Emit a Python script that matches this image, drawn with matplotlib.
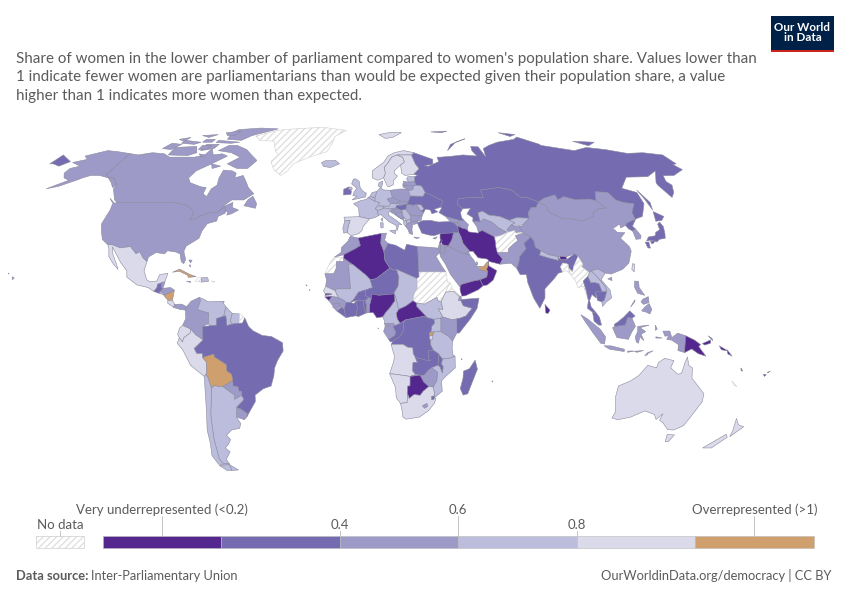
import numpy as np
import matplotlib
matplotlib.use('Agg')
import matplotlib.pyplot as plt
from matplotlib.patches import Polygon, Rectangle

plt.rcParams['font.family'] = ['Lato', 'DejaVu Sans']
plt.rcParams['hatch.linewidth'] = 1.0

title_lines = [
    "Share of women in the lower chamber of parliament compared to women's population share. Values lower than",
    "1 indicate fewer women are parliamentarians than would be expected given their population share, a value",
    "higher than 1 indicates more women than expected.",
]

# legend
bin_edges = [0, 0.2, 0.4, 0.6, 0.8, 1.0, 1.2]
bin_colors = ['#54278f', '#756bb1', '#9e9ac8', '#bcbddc', '#dadaeb', '#cf9f6e']

# ratio, only the bin can be read so mostly mid-bin values
ratio = {
    'Canada': .5, 'USA': .5, 'Alaska': .5, 'Greenland': None, 'Russia': .3, 'Mexico': .9, 'Guatemala': .3, 'Belize': .5,
    'El Salvador': .7, 'Honduras': .5, 'Nicaragua': 1.1, 'Costa Rica': .9, 'Panama': .5, 'Cuba': 1.1, 'Haiti': None,
    'Dominican Rep': .7, 'Jamaica': .5, 'Bahamas': .5, 'Puerto Rico': None, 'Trinidad': .7,
    'Colombia': .5, 'Venezuela': .7, 'Guyana': .7, 'Suriname': .7, 'French Guiana': None, 'Brazil': .3, 'Ecuador': .9,
    'Peru': .9, 'Bolivia': 1.1, 'Paraguay': .5, 'Uruguay': .5, 'Argentina': .7, 'Chile': .7,
    'Morocco': .5, 'Western Sahara': None, 'Mauritania': .5, 'Algeria': .1, 'Tunisia': .5, 'Libya': .3, 'Egypt': .5,
    'Mali': .7, 'Niger': .3, 'Chad': .7, 'Sudan': None, 'South Sudan': .7, 'CAR': .1, 'Eritrea': None, 'Ethiopia': .9,
    'Djibouti': .5, 'Somalia': .3, 'Kenya': .5, 'Uganda': .7, 'Tanzania': .7, 'DR Congo': .3, 'Congo': .3, 'Gabon': .5,
    'Equatorial Guinea': .5, 'Cameroon': .7, 'Nigeria': .1, 'Benin': .5, 'Togo': .3, 'Ghana': .3, 'Ivory Coast': .3,
    'Burkina Faso': .3, 'Liberia': .3, 'Sierra Leone': .5, 'Guinea': .5, 'Guinea-Bissau': .1, 'Senegal': .9, 'Gambia': .1,
    'Angola': .9, 'Zambia': .3, 'Malawi': .3, 'Mozambique': .7, 'Zimbabwe': .5, 'Namibia': .9, 'Botswana': .1,
    'South Africa': .9, 'Lesotho': .5, 'Eswatini': .3, 'Madagascar': .3, 'Rwanda': 1.1, 'Burundi': .9, 'Cape Verde': .9,
    'Mauritius': .3, 'Comoros': .3, 'Sao Tome': .5,
    'Iceland': .7, 'Ireland': .3, 'UK': .7, 'France': .7, 'Spain': .9, 'Portugal': .7, 'Belgium': .7, 'Netherlands': .7,
    'Germany': .7, 'Denmark': .7, 'Switzerland': .7, 'Austria': .7, 'Italy': .7, 'Poland': .5, 'Czechia': .5, 'Slovakia': .5,
    'Hungary': .3, 'Romania': .5, 'Bulgaria': .5, 'Greece': .5, 'Albania': .7, 'North Macedonia': .7, 'Serbia': .7,
    'Croatia': .5, 'Bosnia': .5, 'Montenegro': .5, 'Slovenia': .5, 'Ukraine': .3, 'Moldova': .7, 'Belarus': .7,
    'Lithuania': .5, 'Latvia': .5, 'Estonia': .7, 'Norway': .9, 'Sweden': .9, 'Finland': .9, 'Svalbard': .9,
    'Turkey': .3, 'Cyprus': .5, 'Georgia': .5, 'Armenia': .5, 'Azerbaijan': .5,
    'Kazakhstan': .3, 'Uzbekistan': .7, 'Turkmenistan': .5, 'Kyrgyzstan': .7, 'Tajikistan': .5, 'Afghanistan': None,
    'Iran': .1, 'Iraq': .5, 'Syria': .1, 'Lebanon': .1, 'Israel': .5, 'Jordan': .5, 'Saudi Arabia': .5, 'Yemen': .1,
    'Oman': .1, 'UAE': 1.1, 'Qatar': .5, 'Kuwait': .5, 'Pakistan': .5, 'India': .3, 'Sri Lanka': .1, 'Nepal': .7,
    'Bhutan': .1, 'Bangladesh': None, 'Myanmar': None, 'Thailand': .3, 'Laos': .7, 'Cambodia': .3, 'Vietnam': .7,
    'Malaysia': .3, 'Indonesia': .5, 'Timor-Leste': .9, 'PNG': .1, 'Solomon Islands': .1, 'Vanuatu': .1, 'Fiji': .1,
    'New Caledonia': None, 'Philippines': .5, 'Taiwan': .9, 'Japan': .3, 'North Korea': .3, 'South Korea': .5,
    'Mongolia': .5, 'China': .5, 'Australia': .9, 'New Zealand': .9, 'Hawaii': .5,
}

# rough country outlines, lon,lat pairs, rings separated by |
outlines = {
    'Russia': '31,70 33,69.4 41,67 40,64.7 35,64.3 37,63.9 44,66 44,68 46,68 54,68.5 60,69 68,68.5 67,71 68,73 72.5,72.8 73,68 75,72 80,73.5 87,75 100,76.5 104,77.7 113,74 113,73.5 130,71 140,72.5 150,71.5 160,69.7 170,70 180,69 180,65 177.5,64.7 179,62.5 170,60 164,59.9 162,57.5 163,56 160,53 156.7,51 155.5,56 156,57 163,62 155,59.5 143,59.3 135,54.7 141,53 140,48.5 135,43.5 131,42.5 130.7,42.3 131,45 135,48.5 130.5,48.9 127,50 126,53 120,53.3 117,49.7 114,50.3 107,50 102,51.3 98,50 98,52 92,50.8 87.8,49.2 83,51 80,51 77,54 71,55 61,54 61,51 55,51 48,50.5 47,48 49,46.5 47.5,45 47.5,43 48.5,41.8 46.7,41.8 40,43.4 37,45 39,47 38.2,47.1 40,49.6 34,52.3 32,53 30.8,55.6 28,56 27.5,57.5 28,59.5 30,60 27.8,60.5 31.5,62.9 30,65 29,69'
              '|-180,65 -180,69 -175,67.5 -170,66 -173,64 -178,65|52,71 56,74 68,76.8 60,75 54,72|142,54 143.5,49 142,46 142,50|137,75.5 150,75 143,73.3|95,80 105,79 100,78|48,80.5 60,81 55,80',
    'Canada': '-141,69.6 -135,69 -128,70 -120,69.5 -115,68 -108,68 -100,68 -95,69 -94,72 -90,69 -85,69.5 -81,68.5 -87,65 -93,62 -94.5,59 -92,57 -85,55.3 -82,55 -82,52.5 -79.5,51.3 -79,54.5 -77,56 -78,59 -78,62.3 -73,62 -70,61 -69.5,59 -65.5,60 -62,57 -60,55 -56,52.5 -60,50 -66,50 -70,47 -65,49 -64.5,47 -61,46 -64,44.5 -66,44 -66,45.3 -67.5,45.5 -68,47.3 -70,46 -71,45 -75,45 -79,43.5 -79,43 -83,42 -82.5,45 -84.5,46.5 -88,48 -95,49 -123,49 -125,50 -130,54.5 -130,56 -135,59 -137.5,59 -141,60.3'
              '|-80,73.5 -72,71.5 -67,69 -62,66.5 -65,63 -71,63 -78,65 -73,68 -80,70 -89,71 -85,73.5|-117,69 -105,68.7 -101,70 -105,73 -118,72.5|-125,72 -123,74.5 -116,74 -119,71.5|-90,76.5 -80,76 -76,78.5 -65,81.5 -62,82.5 -75,83 -90,82 -92,80|-95,76 -80,75 -85,74.5 -95,74.8|-117,76 -105,75 -108,74 -117,74.5|-100,74 -92,74 -93,72 -100,71|-96,80 -87,81 -88,78.5 -93,78.5|-59,47.7 -53,46.7 -53,48.5 -56,51.5 -58,50|-87,65 -81,64 -85,63|-128,50.7 -123.5,48.4 -125,48.8'
              '|-102,73.5 -96,73.5 -97,71.5 -102,71.5|-99,69.5 -95,69 -96,68|-104,76.5 -98,76.5 -98,75 -104,75|-110,78.5 -100,79 -104,77.5|-122,76.5 -116,77.5 -117,75.5',
    'USA': '-123,49 -95,49 -88,48 -84.5,46.5 -82.5,45 -83,42 -79,43 -79,43.5 -75,45 -71,45 -70,46 -68,47.3 -67.5,45.5 -67,44.8 -70,43.5 -70,41.7 -74,40.7 -75.5,38 -76,35 -78,33.8 -81,32 -81.5,30 -80,26.8 -80.5,25.2 -81.8,26 -83,29 -85,29.7 -89,30.2 -90,29 -94,29.5 -97,27.8 -97.2,26 -99.5,27.5 -101.5,29.8 -103,29 -106.5,31.8 -111,31.3 -115,32.5 -117.1,32.5 -120.5,34.5 -122.5,37.5 -124.3,40.5 -124,46 -124.7,48.4',
    'Alaska': '-141,69.6 -141,60.3 -137.5,59 -135,59 -130,56 -131,55 -134,57 -138,59 -144,60 -149,60 -152,59 -154,58 -160,55.5 -165,54.5 -158,58 -162,59 -165,61 -165,63 -161,64 -168,65.6 -162,67 -166,68.5 -157,71 -150,70.5',
    'Hawaii': '-156,20.2 -155,19.7 -155.7,19|-158.2,21.6 -157.7,21.4 -158,21.2',
    'Greenland': '-73,78.2 -68,76 -58,75.5 -54,71 -51,69 -53.5,66 -50,62.5 -45,60 -42,62 -40,65 -32,68 -22,70.5 -20,74 -19,78 -12,81.5 -30,83.5 -50,82.5 -62,81.5',
    'Mexico': '-117.1,32.5 -115,32.5 -111,31.3 -106.5,31.8 -103,29 -101.5,29.8 -99.5,27.5 -97.2,26 -97.8,22.5 -96,19 -94.5,18.2 -91.5,18.5 -90.5,21 -87,21.5 -87.8,18.2 -89,18 -91,17.2 -91,16 -92.2,14.5 -95,16 -100,17 -105,20 -105.5,22.5 -109,25.7 -112.5,29.5 -114.7,31.7 -113.5,29 -111,25.5 -109.5,23 -112,25 -115,28 -116,31',
    'Guatemala': '-92.2,14.5 -91,16 -91,17.2 -89.2,17.8 -89,15.9 -88.2,15.7 -89.3,14.5 -90,13.8',
    'Belize': '-89,18 -87.8,18.2 -88.2,16 -89,15.9 -89.2,17.8',
    'El Salvador': '-90,13.8 -89.3,14.4 -87.8,13.9 -87.7,13.2',
    'Honduras': '-89.3,14.5 -88.2,15.7 -85,16 -83.2,15 -85,14 -87,13 -87.7,13.2 -87.8,13.9',
    'Nicaragua': '-87.7,13 -85,14 -83.2,15 -83.7,11 -85.7,11.1',
    'Costa Rica': '-85.7,11.1 -83.7,11 -82.6,9.5 -83,8.3 -85.7,10',
    'Panama': '-83,8.3 -82.6,9.5 -79.5,9.6 -77.3,8.6 -77.8,7.3 -80,7.5 -81,7.8',
    'Cuba': '-85,21.9 -82,23.1 -77,21 -74.2,20.2 -77.7,19.9 -78,20.7 -82,22.3',
    'Haiti': '-74.4,18.4 -71.7,18.1 -71.7,19.8 -73.3,19.9',
    'Dominican Rep': '-71.7,18.1 -68.5,18.4 -69,19.8 -71.7,19.8',
    'Jamaica': '-78.3,18.3 -76.3,18 -76.5,18.4',
    'Puerto Rico': '-67.2,18.5 -65.7,18.4 -66,18',
    'Trinidad': '-61.6,10.7 -61,10.7 -61,10.1',
    'Bahamas': '-78.5,26.7 -77,26.5 -77.5,25.5|-78,24.6 -77.2,23.8 -77.5,24.8',
    'Colombia': '-77.3,8.6 -75.5,10.7 -72,12.2 -71.3,11 -72.5,7.5 -67.5,6.2 -67.5,2 -70,1 -70,-4.2 -73,-2.3 -75.2,-0.1 -78.8,1.4 -77.5,4 -77.8,7.3',
    'Venezuela': '-71.3,11 -72,12.2 -70,11.5 -68,10.5 -62,10.7 -60,8.5 -60.5,6.8 -61,5 -60.7,5 -64,4 -64,1.5 -67,1.2 -67.5,2 -67.5,6.2 -72.5,7.5',
    'Guyana': '-60,8.5 -57.2,6 -58,3 -57,1.9 -59.5,1.3 -60,5 -60.7,5 -60.5,6.8',
    'Suriname': '-57.2,6 -54,5.8 -54.2,2.2 -57,1.9 -58,3',
    'French Guiana': '-54,5.8 -51.7,4.3 -52.6,2.3 -54.2,2.2',
    'Brazil': '-51.7,4.3 -50,1 -48,-0.7 -44,-2.5 -40,-2.9 -35.2,-5.3 -35,-8.5 -37.5,-12 -39,-15 -39.5,-18 -41,-22 -44.5,-23 -48.5,-25.5 -48.7,-28 -52,-32 -53.4,-33.7 -53.2,-32.6 -55.8,-30.9 -57.6,-30.2 -53.8,-27.2 -54.6,-25.6 -54.3,-24 -55.5,-24 -55.9,-22.3 -58,-22 -57.9,-20 -58.2,-17.5 -60.2,-16.2 -60.3,-13.7 -65.3,-10.8 -65.4,-9.7 -70.5,-11 -70.5,-9.5 -72.9,-9.5 -74,-7.5 -70,-4.2 -70,1 -67,1.2 -64,1.5 -64,4 -60.7,5 -60,5 -59.5,1.3 -57,1.9 -54.2,2.2 -52.6,2.3',
    'Ecuador': '-78.8,1.4 -75.2,-0.1 -75.5,-1.5 -78.3,-3.4 -79,-5 -80.3,-3.4 -81,-2 -80,0.5',
    'Peru': '-80.3,-3.4 -79,-5 -78.3,-3.4 -75.5,-1.5 -75.2,-0.1 -73,-2.3 -70,-4.2 -74,-7.5 -72.9,-9.5 -70.5,-9.5 -70.5,-11 -68.9,-12.7 -69,-16.2 -69.5,-17.5 -70.4,-18.3 -76,-14 -79,-8 -81.3,-5.5',
    'Bolivia': '-70.5,-11 -65.4,-9.7 -65.3,-10.8 -60.3,-13.7 -60.2,-16.2 -58.2,-17.5 -57.9,-20 -62.6,-22.2 -64.5,-22.2 -66.2,-21.8 -67.8,-22.8 -68.7,-19 -69.5,-17.5 -69,-16.2 -68.9,-12.7',
    'Paraguay': '-62.6,-22.2 -57.9,-20 -58,-22 -55.9,-22.3 -55.5,-24 -54.3,-24 -54.6,-25.6 -58,-27.2 -57.8,-25.5 -60,-24',
    'Uruguay': '-57.6,-30.2 -55.8,-30.9 -53.2,-32.6 -53.4,-33.7 -54.9,-35 -58.4,-34',
    'Argentina': '-66.2,-21.8 -64.5,-22.2 -62.6,-22.2 -60,-24 -57.8,-25.5 -58,-27.2 -54.6,-25.6 -53.8,-27.2 -57.6,-30.2 -58.4,-34 -57,-36.5 -58,-38.3 -62,-39 -65,-41 -63.7,-42.7 -65.3,-44.5 -67.5,-46 -65.8,-47.5 -69,-50.5 -68.4,-52.4 -71.9,-52 -72.5,-50 -72,-47 -71.7,-43 -71,-39.5 -70,-33 -68.5,-27 -67.8,-22.8|-68.6,-52.6 -65,-54.8 -68.6,-55',
    'Chile': '-69.5,-17.5 -68.7,-19 -67.8,-22.8 -68.5,-27 -70,-33 -71,-39.5 -71.7,-43 -72,-47 -72.5,-50 -71.9,-52 -68.4,-52.4 -70,-53 -74,-52.5 -75.5,-49 -74,-44 -73.5,-39 -71.5,-31 -70.4,-18.3|-74,-53 -68.6,-52.6 -68.6,-55 -71,-55',
    'Morocco': '-5.9,35.8 -2.2,35.1 -1.2,32.2 -3.7,30.9 -8.7,28.7 -13,27.7 -10,29.5 -9.8,31.5 -7,33.8',
    'Western Sahara': '-13,27.7 -8.7,27.7 -8.7,26 -12,26 -12,23.4 -13,21.3 -17,21.3 -16,23.5 -14.5,26',
    'Mauritania': '-17,21.3 -13,21.3 -12,23.4 -12,26 -8.7,26 -8.7,27.3 -4.8,25 -6.5,25 -5.5,15.5 -11.5,15.5 -12.3,14.8 -16.5,16.5 -16.2,19',
    'Algeria': '-2.2,35.1 8.6,36.9 8.2,33 9.5,30 9.9,26.5 12,23.5 5.8,19.4 3.2,19 1.1,20.9 -4.8,25 -8.7,27.3 -8.7,28.7 -3.7,30.9 -1.2,32.2',
    'Tunisia': '8.6,36.9 11,37 10,34.3 11.5,33 10.3,31 9.5,30 8.2,33',
    'Libya': '11.5,33 15,32.3 19,30.4 20,32.7 25,31.8 25,20 24,19.5 15,23 14.2,22.6 12,23.5 9.9,26.5 9.5,30 10.3,31',
    'Egypt': '25,31.8 31,31.5 34.3,31.2 34.8,29.5 33,28 35.5,24 37,22 25,22',
    'Mali': '-12.3,14.8 -11.5,15.5 -5.5,15.5 -6.5,25 -4.8,25 1.1,20.9 3.2,19 4.2,16 1,15 0.3,14.9 -2,14.2 -4,11.5 -5.5,10.3 -7.5,10.3 -8.3,11 -11,12.2',
    'Niger': '3.2,19 5.8,19.4 12,23.5 14.2,22.6 15,23 16,20 15.5,16.5 13.6,13.8 13,13.5 7,13 4,13.5 3.6,11.7 2.4,12.2 1,13 1,15 4.2,16',
    'Chad': '15,23 24,19.5 24,15.5 22.5,13.5 22,10.9 18.9,8.9 15.5,7.5 15,10 14.3,12.5 13.6,13.8 15.5,16.5 16,20',
    'Sudan': '24,19.5 25,20 25,22 37,22 37.5,18 38.5,18 36.5,14.3 34.3,10.6 33,10.8 32.5,12.2 27,9.6 23.5,10 22,10.9 22.5,13.5 24,15.5',
    'South Sudan': '23.5,10 27,9.6 32.5,12.2 33,10.8 34.3,10.6 35,7.5 33,7.8 35,4.6 34,4.2 31,3.7 28,4.4 27.4,5 23.5,8.7',
    'CAR': '15.5,7.5 18.9,8.9 22,10.9 23.5,10 23.5,8.7 27.4,5 22.5,4.2 18.6,3.5 16.2,2.2 15,3.8 14.5,6',
    'Eritrea': '36.5,14.3 38.5,18 39.5,15.5 43,12.5 42.4,12.5 40,14.5 37.5,14.3',
    'Ethiopia': '36.5,14.3 37.5,14.3 40,14.5 42.4,12.5 42,11 43,11 44,9 47.9,8 45,5 42,4 41,3.9 39,3.5 35,4.6 33,7.8 35,7.5 34.3,10.6',
    'Djibouti': '42.4,12.5 43.3,12.4 43,11 42,11',
    'Somalia': '43,11 43.3,11.4 51,11.9 50,8 47,4 42,-1.6 41,-1.5 41,3.9 42,4 45,5 47.9,8 44,9',
    'Kenya': '41,3.9 41,-1.5 39.2,-4.7 37.6,-3 34,-1 34,4.2 35,4.6 39,3.5',
    'Uganda': '31,3.7 34,4.2 34,-1 29.6,-1.4 30,1 31.2,2.3',
    'Tanzania': '30.8,-1.1 34,-1 37.6,-3 39.2,-4.7 39,-7 39.5,-10 40.4,-10.5 38,-11.3 34.9,-11.6 33,-9.5 30.8,-8.2 29.5,-6 29.4,-4.4 30.5,-3.8 30.5,-2.4',
    'DR Congo': '18.6,3.5 22.5,4.2 27.4,5 28,4.4 31,3.7 31.2,2.3 30,1 29.6,-1.4 29,-1.3 29,-2.8 29.4,-4.4 29.5,-6 30.8,-8.2 28.5,-8.5 28.9,-11.5 29.8,-12.2 27.5,-12 25.5,-11.5 23,-11 22,-9.5 21.8,-7.3 19.5,-7 17.5,-5.9 13,-5.9 12.3,-6 13,-4.7 16,-3 17.7,-0.5 17.7,2.5',
    'Rwanda': '29,-1.3 30.8,-1.1 30.5,-2.4 29,-2.8',
    'Burundi': '29,-2.8 30.5,-2.4 30.5,-3.8 29.4,-4.4',
    'Congo': '16.2,2.2 18.6,3.5 17.7,2.5 17.7,-0.5 16,-3 13,-4.7 12,-5 11.2,-4 13.9,-2.4 14.2,-1 13,1 14,1.4',
    'Gabon': '9.7,1 11.3,1 11.3,2.2 13.3,2.2 14,1.4 13,1 14.2,-1 13.9,-2.4 11.2,-4 9,-1 9.5,0.5',
    'Equatorial Guinea': '9.4,2.2 11.3,2.2 11.3,1 9.7,1',
    'Cameroon': '8.6,4.7 9.5,3 9.4,2.2 13.3,2.2 14,1.4 16.2,2.2 15,3.8 14.5,6 15.5,7.5 15,10 14.3,12.5 13.6,13.8 14,11 12,8.5 10,6.5',
    'Nigeria': '2.7,6.3 4.5,6.3 6,4.3 8.6,4.7 10,6.5 12,8.5 14,11 13.6,13.8 13,13.5 7,13 4,13.5 3.6,11.7 2.8,9',
    'Benin': '1.6,6.2 2.7,6.3 2.8,9 3.6,11.7 2.4,12.2 0.9,10.9 1.6,9',
    'Togo': '1.2,6.1 1.6,6.2 1.6,9 0.9,10.9 0,11 0.5,8',
    'Ghana': '-3.1,5.1 -2,4.8 1.2,6.1 0.5,8 0,11 -2.9,11 -2.5,8',
    'Ivory Coast': '-7.5,4.4 -3.1,5.1 -2.5,8 -2.9,11 -4,9.8 -5.5,10.3 -7.5,10.3 -8.3,7.7',
    'Burkina Faso': '-5.5,10.3 -2.9,11 0,11 0.9,10.9 2.4,12.2 1,13 1,15 0.3,14.9 -2,14.2 -4,11.5',
    'Liberia': '-11.4,6.9 -7.5,4.4 -8.3,7.7 -9.5,8.5',
    'Guinea': '-15,11 -13.3,9 -12.5,9.9 -10.3,9.9 -10.5,8.4 -9.5,8.5 -8.3,7.7 -7.5,10.3 -8.3,11 -11,12.2 -12.3,12.4 -13.7,12.6',
    'Sierra Leone': '-13.3,8.5 -11.4,6.9 -10.5,8.4 -10.3,9.9 -12.5,9.9',
    'Senegal': '-17.4,14.7 -16.5,16.5 -12.3,14.8 -11,12.2 -12.3,12.4 -13.7,12.6 -16.7,12.3 -16.7,13.1 -15,13.1 -15,13.6 -16.6,13.6',
    'Guinea-Bissau': '-16.7,12.3 -13.7,12.6 -15,11',
    'Gambia': '-16.7,13.1 -13.9,13.3 -13.9,13.6 -16.6,13.6',
    'Cape Verde': '-25.3,17.1 -24.7,16.8 -25,16.6|-23.7,15.3 -23.3,14.9 -23.7,14.9',
    'Sao Tome': '6.5,0.4 6.8,0.3 6.6,0',
    'Angola': '12.3,-6 13,-5.9 17.5,-5.9 19.5,-7 21.8,-7.3 22,-9.5 23,-11 24,-13 22,-13 22,-16.2 23.4,-17.6 20.9,-18.3 13.8,-17.4 11.8,-17.3 13.5,-12.5 13.8,-10.5',
    'Zambia': '30.8,-8.2 33,-9.5 33.2,-12 33,-14 30.2,-15 28.9,-15.9 27,-17.9 25.3,-17.8 23.4,-17.6 22,-16.2 22,-13 24,-13 23,-11 25.5,-11.5 27.5,-12 29.8,-12.2 28.9,-11.5 28.5,-8.5',
    'Mozambique': '40.4,-10.5 40.7,-15 37,-18 34.9,-20 35.5,-24 32.9,-26 32,-26.8 32,-24.5 31.3,-22.4 32.8,-20 32.9,-16.7 30.2,-15 33,-14 33.9,-14.5 35.2,-17 35.3,-14.5 34.5,-13.5 34.9,-11.6 38,-11.3',
    'Malawi': '33,-9.5 34.9,-11.6 34.5,-13.5 35.3,-14.5 35.2,-17 33.9,-14.5 33,-14 33.2,-12',
    'Zimbabwe': '25.3,-17.8 27,-17.9 28.9,-15.9 30.2,-15 32.9,-16.7 32.8,-20 31.3,-22.4 29.4,-22.2 27,-20.5',
    'Namibia': '11.8,-17.3 13.8,-17.4 20.9,-18.3 23.4,-17.6 25.3,-17.8 21,-18.3 21,-22 20,-22 20,-28.4 17,-28.7 15,-26.5 14.5,-22.5',
    'Botswana': '20.9,-18.3 25.3,-17.8 27,-20.5 29.4,-22.2 27,-24 25.7,-25.6 23,-25.3 20.8,-26.8 20,-25 20,-22 21,-22',
    'South Africa': '17,-28.7 20,-28.4 20,-25 20.8,-26.8 23,-25.3 25.7,-25.6 27,-24 29.4,-22.2 31.3,-22.4 32,-24.5 32,-26.8 32.9,-26.8 32.4,-28.6 30,-31.5 26,-34 20,-34.8 18.4,-34 18,-32',
    'Lesotho': '27,-29.6 29,-28.7 29.4,-29.9 28,-30.6',
    'Eswatini': '30.8,-26 32,-25.8 32,-27.2 31,-27.3',
    'Madagascar': '49.3,-12 50.5,-15.5 47,-25 45,-25.5 43.5,-23 44.4,-19 44.4,-16.3 47,-15.3',
    'Mauritius': '57.3,-20 57.8,-20.2 57.5,-20.5',
    'Comoros': '43.2,-11.4 43.6,-11.8 43.3,-11.9',
    'Iceland': '-24,65.5 -22,66.4 -16,66.5 -13.5,65 -18.5,63.4 -22.5,63.9',
    'Svalbard': '11,79 20,80.3 27,80 20,77.5 15,77',
    'Ireland': '-10,52 -6.2,52.2 -6,53.5 -6.3,54 -7.3,55.3 -10,54.3',
    'UK': '-5.5,50 1.3,51.2 1.7,52.7 0,53.5 -1.5,55 -2,57.5 -3.8,58.6 -5.2,58.5 -6,56.5 -3.2,54.7 -4.5,53.3 -5.2,51.7 -3,51.5|-6.2,54 -5.5,54.5 -6.2,55.2 -7.3,55.1 -7.7,54.3',
    'France': '-1.8,43.4 3.1,42.5 6,43.1 7.5,43.8 7,45.9 6,46.5 8.2,49 6,49.5 2.6,51 1.6,50.2 -1.3,49.7 -4.7,48.5 -2.2,47|8.6,42.4 9.5,42.9 9.3,41.5',
    'Spain': '-9.2,43.2 -1.8,43.4 3.1,42.5 0,39.5 -0.5,38 -2,36.8 -5.5,36 -7.4,37.2 -7,39.6 -6.2,41.9 -8.7,42',
    'Portugal': '-8.7,42 -6.2,41.9 -7,39.6 -7.4,37.2 -9,37 -9.5,38.8',
    'Germany': '6,50.8 7.1,53.4 9,54.8 11,54 14.2,53.9 15,51 12.2,50.3 13.8,48.7 13,47.5 7.6,47.6 8.2,49 6,49.5',
    'Belgium': '2.6,51 3.5,51.4 4,51.4 6,50.8 6,49.5',
    'Netherlands': '3.5,51.4 4.7,53 7.1,53.4 6,50.8 4,51.4',
    'Denmark': '8.1,55.5 8.5,57 10.6,57.7 10,55.7 9.5,54.9',
    'Switzerland': '6,46.5 7.6,47.6 9.5,47.5 10.4,46.8 8.5,46 7,45.9',
    'Austria': '9.5,47.5 13,47.5 13.8,48.7 16.9,48.6 16.2,46.8 13,46.5 10.4,46.8',
    'Italy': '7,45.9 8.5,46 10.4,46.8 13,46.5 13.7,45.6 12.3,45 12.5,44 16,41.9 18.5,40.2 17,40.5 16.5,39 16,38 15.6,40 12.5,41.4 10.3,43 8.5,44.3 7.5,43.8|12.5,38 15.6,38.2 15,36.7|8.2,41 9.6,41 9.5,39.1 8.5,39',
    'Poland': '14.2,53.9 19,54.4 23,54.4 24,52.5 23.5,50.5 22.6,49.1 19,49.4 15,51',
    'Czechia': '12.2,50.3 15,51 18.8,49.5 16.9,48.6 13.8,48.7',
    'Slovakia': '16.9,48.6 18.8,49.5 22.6,49.1 22.1,48.4 18.8,47.8',
    'Hungary': '16.2,46.8 16.9,48 18.8,47.8 22.1,48.4 21,46.2 18.8,45.9',
    'Romania': '21,46.2 22.1,48.4 24.9,47.9 26.5,48.3 28.2,45.5 29.7,45.2 28.6,43.7 25.5,43.7 22.7,44.2',
    'Bulgaria': '22.7,44.2 25.5,43.7 28.6,43.7 27.8,42 26.3,41.7 23,41.4 22.4,42.3 23,43',
    'Greece': '20.2,39.6 21,40.8 23,41.4 26.3,41.7 26,40.8 23.5,40.2 23,38.2 23.2,36.5 21.7,36.8 21.2,38.3|23.6,35.5 26.3,35.2 24.7,34.9',
    'Albania': '19.4,42 20.6,42 21,40.8 20.2,39.6 19.4,40.5',
    'North Macedonia': '20.6,42 22.4,42.3 23,41.4 21,40.8',
    'Serbia': '19,46 21,46.2 22.7,44.2 23,43 22.4,42.3 20.6,42 20,42.9 19.4,43.3 19.2,44.8',
    'Croatia': '13.6,45.1 14,45.6 16.5,46.5 18.8,45.9 19,45 16,45.1 15.8,44.2 18.5,42.5 15,44.5',
    'Bosnia': '16,45.1 19,45 19.4,43.3 18.5,42.5 15.8,44.2',
    'Montenegro': '18.5,42.5 19.4,43.3 20,42.9 19.4,42',
    'Slovenia': '13.7,45.6 13.7,46.5 16,46.8 16.5,46.5 14,45.6',
    'Ukraine': '22.1,48.4 22.6,49.1 23.5,50.5 24,51.6 30.5,51.5 32,53 34,52.3 40,49.6 38.2,47.1 35,46.3 36.5,45.3 33.5,44.5 33,46 30.7,46.4 29.7,45.2 28.2,45.5 26.5,48.3 24.9,47.9',
    'Moldova': '26.5,48.3 28.2,45.5 30,46.4 29,48',
    'Belarus': '23.5,53.9 24,51.6 30.5,51.5 32,53 30.8,55.6 28,56 26.6,55.7 25.8,54.1',
    'Lithuania': '21,55.2 21,56 26.6,55.7 25.8,54.1 23.5,53.9 23,54.4',
    'Latvia': '21,56 21.6,57.6 24.4,57.3 27.5,57.5 28,56 26.6,55.7',
    'Estonia': '23.5,58.5 24.4,59.5 28,59.5 27.5,57.5 24.4,57.3',
    'Norway': '5,59 5.2,62 12,65.7 15,68.6 19,70 25,71 31,70 29,69 25.7,69 20.5,69 17,68 14,65 12,63.5 12.4,61 11.2,59 8,58',
    'Sweden': '11.2,59 12.4,61 12,63.5 14,65 17,68 20.5,69 23.6,67.9 24,65.8 21.5,64.5 17.5,62 17.5,60.6 18.8,59.8 16.5,58 16,56.2 14,55.4 12.8,55.5',
    'Finland': '20.5,69 25.7,69 29,69 30,65 31.5,62.9 27.8,60.5 23,60 21.3,61 21.5,64.5 24,65.8 23.6,67.9',
    'Turkey': '26.2,40 26,41 28.2,41.8 32,42 36,41.3 41.6,41.5 43.5,41 44.7,39.7 44.8,37.2 42.3,37.1 36.7,36.8 36,36.8 33,36 30.5,36.3 27.5,37',
    'Cyprus': '32.4,35 34.5,35.6 33.5,34.7',
    'Georgia': '40,43.4 46.7,41.8 45,41.2 43.5,41 41.6,41.5',
    'Armenia': '43.5,41 45,41.2 46.5,39 44.8,39.7',
    'Azerbaijan': '45,41.2 46.7,41.8 48.5,41.8 50,40.3 49,38.4 46.5,39',
    'Kazakhstan': '47,48 48,50.5 55,51 61,51 61,54 71,55 77,54 80,51 83,51 87.8,49.2 85.5,47 83,47 80.5,45 80,42.8 74,43 70,42 66,43.5 61,44 58.5,45.5 56,45 56,41.3 52.5,41.7 53,43 50.5,44.5 53,46.8 49,46.5',
    'Uzbekistan': '56,45 58.5,45.5 61,44 66,43.5 70,42 72.5,41 70.5,40.3 68,38.5 67.3,37.2 64,39 61.5,41.2 58,42.5 56,41.3',
    'Turkmenistan': '52.5,41.7 56,41.3 58,42.5 61.5,41.2 64,39 67.3,37.2 64,36 61,35.6 56,38 54,37.4 53.8,39.5',
    'Kyrgyzstan': '70,42 74,43 80,42.8 76,40.3 72,39.5 70.5,40.3 72.5,41',
    'Tajikistan': '68,38.5 70.5,40.3 72,39.5 75,39.5 75,37.4 71.5,37 71,38 68,37',
    'Afghanistan': '61,35.6 64,36 67.3,37.2 71,38 71.5,37 75,37.4 71,36 71.5,34 69.5,33 66.5,31 66,29.5 61,29.5 60.8,31.5 61,34',
    'Iran': '44.8,39.7 46.5,39 49,38.4 49.5,37.5 54,37 54,37.4 56,38 61,35.6 61,34 60.8,31.5 61,29.5 63,27 61.5,25 57,26 56,27 52,27.5 50,30 48.5,30 46,33 45.5,35.5 44.8,37.2',
    'Iraq': '42.3,37.1 44.8,37.2 45.5,35.5 46,33 48.5,30 47.9,29.9 46.5,29.1 44.7,29.2 41,31 39,32 41,34.4 41.2,37',
    'Syria': '36,36.8 42.3,37.1 41,34.4 39,32 36.4,32.5 35.7,35',
    'Lebanon': '35.2,33.1 35.9,34.6 36.6,34.2 35.9,33.2',
    'Israel': '34.3,31.2 35.2,33.1 35.7,33 35.5,31 35,29.5',
    'Jordan': '35.5,31 35.7,32.7 36.4,32.5 39,32 37,31.3 38,30 36,29.2 35,29.4',
    'Saudi Arabia': '34.8,29.5 35,29.4 36,29.2 38,30 37,31.3 39,32 41,31 44.7,29.2 46.5,29.1 48.4,28.5 50,26.5 51,24.5 52,23 55,22.5 55.7,22 55,20 52,19 49,18.5 44,17.3 43,16.7 42.7,16.4 39,21 37,25 35,28',
    'Yemen': '43,16.7 44,17.3 49,18.5 52,19 53.1,16.7 51,15.2 45,12.8 43.5,12.7 42.8,15',
    'Oman': '52,19 55,20 55.7,22 55.2,23 56.3,24.9 56.5,26.3 56.5,24.3 59.8,22.5 57.8,18.9 55,17 53.1,16.7',
    'UAE': '51.6,24.2 54,24.1 56,26 56.4,24.9 55.2,23 55.7,22 52.5,22.9',
    'Qatar': '50.8,24.8 51.2,26.1 51.6,25',
    'Kuwait': '46.5,29.1 47.9,29.9 48.4,28.5',
    'China': '73.7,39.5 75,39.5 76,40.3 80,42.8 80.5,45 83,47 85.5,47 87.8,49.2 90.5,47.8 91,45 96,42.7 100,42.6 105,41.7 111.5,43.7 112,45 116,46.7 119.8,46.8 117,49.7 120,53.3 126,53 127,50 130.5,48.9 135,48.5 131,45 130.7,42.3 129.7,41.5 128,41.6 126,41 124.4,40 121.5,39 122,40.6 119,39.3 117.7,39 119,37.3 122.5,37.2 119.3,35 122,31.7 122,30 119.5,25.5 116,23 110.5,21.2 108,21.6 105,23.2 102,22.4 101,21.7 98,24 98.7,25 97.3,28 96,29 92,27.9 91.8,27.8 89,28 88.2,27.9 84,28.7 81,30.2 78.8,31.5 78.8,34 77.8,35.5 75,37|108.7,19.3 110.5,20 110.5,18.7',
    'Pakistan': '61,29.5 66,29.5 66.5,31 69.5,33 71.5,34 71,36 75,37 77.8,35.5 74,33 74.5,31 71,28 70,25.5 68.5,23.7 66.5,25.4 61.5,25 63,27',
    'India': '74,33 77.8,35.5 78.8,34 78.8,31.5 81,30.2 80,28.5 84,27.4 88,26.5 88.2,27.9 89,26.8 92,26.9 96,29 97.3,28 94.5,24.3 93.5,22 92,23.5 92,25 89.8,25.5 88.5,24 89,22 87,21.5 85,19.5 80.3,15.5 80,12 77.5,8 75,12 73,18 72.8,21 70,21 68.7,23.5 70,25.5 71,28 74.5,31',
    'Sri Lanka': '79.8,9.5 81.9,7.3 81,6 80,6.2',
    'Nepal': '80,28.5 81,30.2 84,28.7 88.2,27.9 88,26.5 84,27.4',
    'Bhutan': '89,26.8 89,28 91.8,27.8 92,26.9',
    'Bangladesh': '88.5,24 89.8,25.5 92,25 92,23.5 92.5,21 91,22.5 89,22',
    'Myanmar': '92.5,21 92,23.5 93.5,22 94.5,24.3 97.3,28 98.7,25 98,24 101,21.7 100,20.3 97.7,18.5 98.5,14.5 99,11 98,14.5 97.5,16.5 95,16 94.3,18.5',
    'Thailand': '97.7,18.5 100,20.3 101,17.8 102.5,18 104.5,17.5 105.5,14.3 102.5,14.3 102.5,12 100.8,13.3 99.5,11 100,8.5 102,6.3 100.5,6.5 98.3,8 99,11 98.5,14.5',
    'Laos': '101,21.7 102,22.4 104.5,19.8 107,16.5 107.5,15 105.5,14.3 104.5,17.5 102.5,18 101,17.8 100,20.3',
    'Cambodia': '102.5,14.3 105.5,14.3 107.5,14.5 106,11 104.8,10.5 103,11',
    'Vietnam': '102,22.4 105,23.2 108,21.6 105.7,19 109,15 109.3,12 106.8,10.4 105,8.7 104.8,10.5 106,11 107.5,14.5 107.5,15 107,16.5 104.5,19.8',
    'Indonesia': '109,0.5 110,1 114.6,1.6 115.7,4.5 117.6,4.2 119,1 117.5,-1 116,-4 111,-3.3 110,-1.5|95.3,5.5 98,4 103.5,0 106,-3 105.7,-5.8 104,-5.5 100.5,-1.5 97,3|105.5,-6.5 108.5,-6.5 114.5,-7.8 114.5,-8.7 108,-7.8|120,1 125,1.5 121,0.5 123.5,-1 121.5,-2 122.8,-4.5 121,-3 120.5,-5.5 119.5,-5 119,-3 120,-1|116,-8.5 119,-8.5 116,-9|119,-8.6 123,-8.3 120,-9|123.6,-10.3 125,-9 124.9,-9.9|127.7,1.5 128.5,0 127.7,-0.5|128,-3 130.8,-3.5 128,-3.5|131,-0.8 134,-0.8 135,-3.3 137.5,-1.6 141,-2.6 141,-9.1 138,-8.3 138,-6 135,-4.3 132.8,-4 133.5,-2.5 132,-2.8',
    'Malaysia': '100.5,6.5 102,6.3 103.4,4.5 104.2,1.5 103,1.5 101,3|109.7,1.7 111.5,2.8 114,4.6 116.8,7 119,5 117.6,4.2 115.7,4.5 114.6,1.6 110,1',
    'Timor-Leste': '125,-9 127.2,-8.4 125.2,-9.4',
    'PNG': '141,-2.6 145,-4.3 147.7,-6 147,-6.8 150.5,-10.5 147,-9.5 144,-7.7 141,-9.1|148.5,-5.6 152,-4.2 152,-5.5 149.5,-6.2|150.8,-2.6 153,-4.5 152.5,-3.6',
    'Solomon Islands': '156,-6.5 160,-8.5 157,-8|159.5,-8 162,-10.5 160,-9.6',
    'Vanuatu': '166.7,-15 167.8,-16.3 167,-16',
    'Fiji': '177.3,-17.5 178.6,-17.6 178,-18.3|178.8,-16.8 180,-16.2 179.2,-16.9',
    'New Caledonia': '164,-20 167,-22.3 165.5,-21.7',
    'Philippines': '120.5,18.5 122.2,18.4 122,16 124,13 121,13.8 120,16|122,7 123.5,8.5 125.5,9.8 126.5,7.5 125.5,5.8 124,6.5|122,10.5 123,11.5 125.5,12.5 125.5,10.2 123,9.5|117.2,8.4 119.5,11.3 119.3,10.5',
    'Taiwan': '121,25.2 122,25 121,22 120.2,23',
    'Japan': '130.9,34 132.5,35.5 136,36 137,37.3 139.5,38.3 140,40.5 141.5,41.3 142,39.5 141,36.8 140,35 137,34.6 135.5,33.6 133,34.2|140,41.6 141.7,45.4 145.3,43.5 143.2,42|130,33.5 131.7,33.6 131.3,31.2 130.2,31.3|132.5,33.8 134.5,34.2 134,33.3 132.8,32.8',
    'North Korea': '124.4,40 125,38.7 126.5,37.8 128.3,38.6 127.5,39.7 129.7,41.5 130.7,42.3 128,41.6 126,41',
    'South Korea': '126.5,37.8 128.3,38.6 129.4,36 128.5,34.8 126.3,34.6',
    'Mongolia': '87.8,49.2 92,50.8 98,52 98,50 102,51.3 107,50 114,50.3 117,49.7 119.8,46.8 116,46.7 112,45 111.5,43.7 105,41.7 100,42.6 96,42.7 91,45 90.5,47.8',
    'Australia': '114,-22 113.7,-26 115.7,-32 115,-34.3 118,-35 123.5,-34 129,-31.6 134,-33 135.7,-34.9 137.8,-32.7 137.5,-35.2 139.7,-36.2 143.5,-38.8 146.5,-39 150,-37.3 151.3,-33.5 153.5,-28 153,-25 149.5,-22 146,-19 145.3,-15 143.5,-14 142.5,-10.8 141.7,-13 141,-17 139.5,-17.5 135.7,-15 136.7,-12.2 132.5,-11.3 130,-13 129.5,-15 125.5,-14 122.2,-18 119,-20|144.7,-40.7 148.3,-40.9 147.5,-43.5 146,-43.5',
    'New Zealand': '166.5,-46 170.8,-46 174.3,-41.8 172.7,-40.6|172.7,-34.5 175.5,-37 178.5,-37.7 175.3,-41.6 174.7,-39.5',
}

# Robinson table
rob_lat = np.arange(0, 95, 5)
rob_x = [1, .9986, .9954, .99, .9822, .973, .96, .9427, .9216, .8962, .8679, .835, .7986, .7597, .7186, .6732, .6213, .5722, .5322]
rob_y = [0, .062, .124, .186, .248, .31, .372, .434, .4958, .5571, .6176, .6769, .7346, .7903, .8435, .8936, .9394, .9761, 1]


def robinson(lon, lat):
    lon = np.asarray(lon, float)
    lat = np.asarray(lat, float)
    a = np.abs(lat)
    return lon * np.interp(a, rob_lat, rob_x), np.sign(lat) * np.interp(a, rob_lat, rob_y)


def parse_rings(text):
    rings = []
    for ring in text.split('|'):
        rings.append(np.array([p.split(',') for p in ring.split()], float))
    return rings


fig = plt.figure(figsize=(8.5, 6), dpi=100)

# map axes fills the figure, limits put the equator and Greenwich where they sit in the picture
ax = fig.add_axes([0, 0, 1, 1])
ax.set_xlim(-363 / 2.29, (850 - 363) / 2.29)
ax.set_ylim(-(600 - 329) / 209, 329 / 209)
ax.axis('off')

for name, text in outlines.items():
    value = ratio[name]
    for ring in parse_rings(text):
        x, y = robinson(ring[:, 0], ring[:, 1])
        pts = np.column_stack([x, y])
        if value is None:
            ax.add_patch(Polygon(pts, facecolor='white', edgecolor='#e0e0e0', hatch='/////', lw=0))
            ax.add_patch(Polygon(pts, fill=False, edgecolor='#cfcfcf', lw=0.4))
        else:
            color = bin_colors[np.digitize(value, bin_edges) - 1]
            ax.add_patch(Polygon(pts, facecolor=color, edgecolor='#8a8a9e', lw=0.4))

# text layer in pixels
txt = fig.add_axes([0, 0, 1, 1], facecolor='none')
txt.set_xlim(0, 850)
txt.set_ylim(600, 0)
txt.axis('off')
grey = '#5b5b5b'
for i, line in enumerate(title_lines):
    txt.text(16, 59 + i * 18.5, line, fontsize=10.88, color=grey, va='center')

txt.add_patch(Rectangle((771, 16), 63, 36, facecolor='#002147', lw=0))
txt.add_patch(Rectangle((771, 49.5), 63, 2.5, facecolor='#ce261e', lw=0))
txt.text(802.5, 32.5, 'Our World\nin Data', color='white', fontsize=8.4, fontweight='bold', ha='center', va='center', linespacing=0.95)

txt.text(16, 576, 'Data source:', fontsize=9.25, fontweight='bold', color=grey, va='center')
txt.text(91, 576, 'Inter-Parliamentary Union', fontsize=9.25, color=grey, va='center')
txt.text(832, 576, 'OurWorldinData.org/democracy | CC BY', fontsize=9.25, color=grey, va='center', ha='right')

# no data swatch
txt.add_patch(Rectangle((36, 536), 48, 12, facecolor='white', edgecolor='#e0e0e0', hatch='/////', lw=0))
txt.add_patch(Rectangle((36, 536), 48, 12, fill=False, edgecolor='#cfcfcf', lw=0.5))
txt.plot([60, 60], [531, 536], color='#bbbbbb', lw=0.6)
txt.text(60, 525, 'No data', fontsize=9.5, color=grey, ha='center', va='center')

# colour legend
leg = fig.add_axes([103 / 850, 1 - 548 / 600, 710.5 / 850, 12 / 600], facecolor='none')
leg.set_xlim(bin_edges[0], bin_edges[-1])
leg.set_ylim(0, 1)
leg.axis('off')
leg.bar(bin_edges[:-1], 1, width=np.diff(bin_edges), align='edge', color=bin_colors, edgecolor='#bbbbbb', lw=0.4, clip_on=False)
legend_labels = [(0.1, 'Very underrepresented (<0.2)', 2), (0.4, '0.4', 1), (0.6, '0.6', 2), (0.8, '0.8', 1), (1.1, 'Overrepresented (>1)', 2)]
for pos, label, row in legend_labels:
    top = 1 + (5 if row == 1 else 20) / 12
    leg.plot([pos, pos], [1, top], color='#bbbbbb', lw=0.6, clip_on=False)
    leg.text(pos, 1 + (11 if row == 1 else 26) / 12, label, fontsize=9.5, color=grey, ha='center', va='center')

fig.savefig('out.png', dpi=100)
